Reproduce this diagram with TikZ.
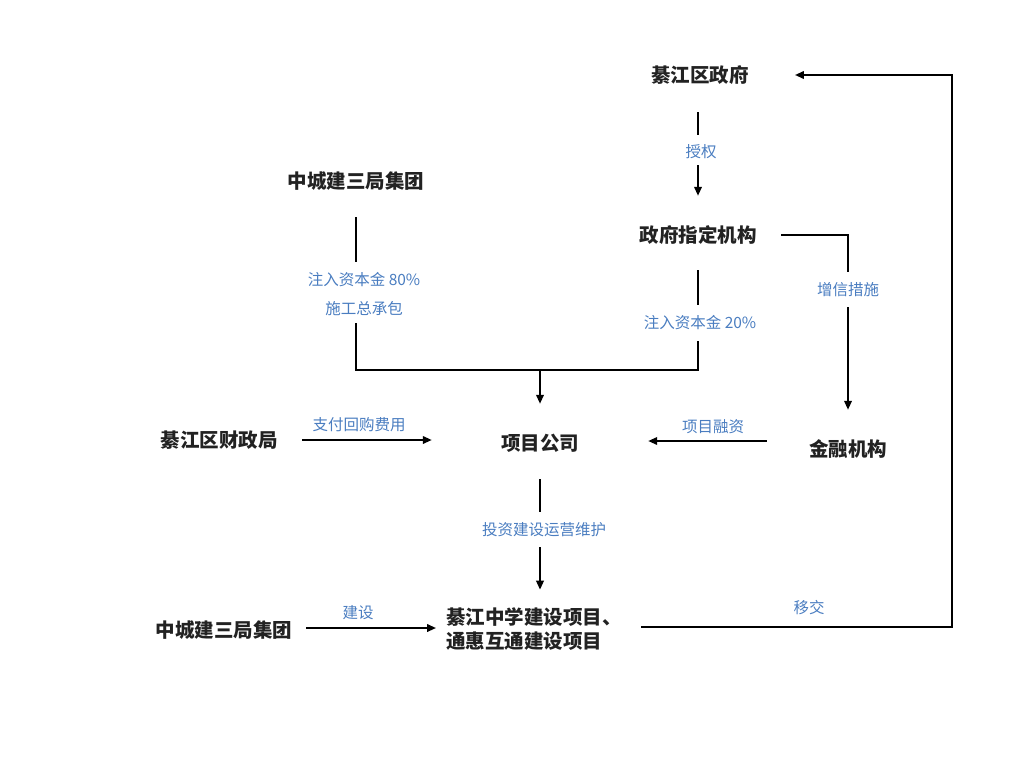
\documentclass[tikz,border=0pt]{standalone}
\usepackage{fontspec}
\setmainfont{Noto Sans CJK SC}
\usetikzlibrary{arrows.meta,calc}
\definecolor{labc}{RGB}{74,125,192}
\definecolor{ink}{RGB}{34,34,34}
\begin{document}
\begin{tikzpicture}[x=1pt,y=-1pt,
  mainbase/.style={font=\fontsize{19.5}{24}\selectfont\bfseries, text=ink, inner sep=0pt},
  mainbox/.style={mainbase, text height=16.6pt, text depth=1.9pt},
  labbox/.style={font=\fontsize{15.5}{18}\selectfont, text=labc, inner sep=0pt, text height=13.2pt, text depth=1.5pt},
  ln/.style={line width=2pt, draw=black},
  arr/.style={ln, -{Triangle[length=9pt,width=7.5pt]}}]
\useasboundingbox (0,0) rectangle (1024,768);
\node[mainbox] (gov) at (700,75) {綦江区政府};
\node[labbox] (auth) at (701,152) {授权};
\node[mainbox] (desig) at (698,235) {政府指定机构};
\node[labbox] (credit) at (848,290) {增信措施};
\node[mainbox] (fin) at (848,449) {金融机构};
\node[labbox] (fund) at (713,427) {项目融资};
\node[mainbox] (company) at (540,443) {项目公司};
\node[mainbox] (bureau) at (219,440) {綦江区财政局};
\node[labbox] (pay) at (359,425) {支付回购费用};
\node[mainbox] (zcj) at (356,181) {中城建三局集团};
\node[labbox] (capA) at (364,280) {注入资本金 80\%};
\node[labbox] (capB) at (364,309) {施工总承包};
\node[labbox] (capC) at (700,323) {注入资本金 20\%};
\node[labbox] (ops) at (544,530) {投资建设运营维护};
\node[mainbase, align=left] (project) at (534,629) {綦江中学建设项目、\\通惠互通建设项目};
\node[mainbox] (zcj2) at (224,630) {中城建三局集团};
\node[labbox] (build) at (358,613) {建设};
\node[labbox] (handover) at (809,608) {移交};
\coordinate (join) at (540,370);
\coordinate (rail) at (952,350);
% government -> designated agency
\draw[ln, shorten <=27.75pt, shorten >=9.6pt] (desig |- gov.south) -- (desig |- auth.north);
\draw[arr, shorten <=5.6pt, shorten >=29.75pt] (desig |- auth.south) -- (desig.north);
% designated agency -> finance institution
\draw[ln, shorten <=24.5pt, shorten >=10.6pt] (desig.east) -| (credit.north);
\draw[arr, shorten <=9.6pt, shorten >=29.75pt] (credit.south) -- (fin.north);
% capital injections
\draw[ln, shorten <=26.75pt, shorten >=18pt] (zcj.south) -- (zcj |- capA);
\draw[ln, shorten <=25.75pt, shorten >=18pt] (desig.south) -- (desig |- capC);
\draw[ln, shorten <=14pt, shorten >=18pt] (zcj |- capB) |- (join) -| (desig |- capC);
\draw[arr, shorten >=29.75pt] (join) -- (company.north);
% financing and payment
\draw[arr, shorten <=42pt, shorten >=69pt] ([yshift=8pt]fin.west) -- ([yshift=8pt]fin.west -| company.east);
\draw[arr, shorten <=24.5pt, shorten >=69pt] (bureau.east) -- (bureau.east -| company.west);
% company -> project
\draw[ln, shorten <=26.75pt, shorten >=10.6pt] (company.south) -- (company |- ops.north);
\draw[arr, shorten <=9.6pt, shorten >=17.7pt] (company |- ops.south) -- (company |- project.north);
% builder -> project
\draw[arr, shorten <=13.75pt, shorten >=10pt] ([yshift=2pt]zcj2.east) -- ([yshift=2pt]zcj2.east -| project.west);
% handover
\draw[arr, shorten <=19.5pt, shorten >=46pt] ([yshift=2pt]project.east) -| (rail) |- (gov.east);
\end{tikzpicture}
\end{document}
